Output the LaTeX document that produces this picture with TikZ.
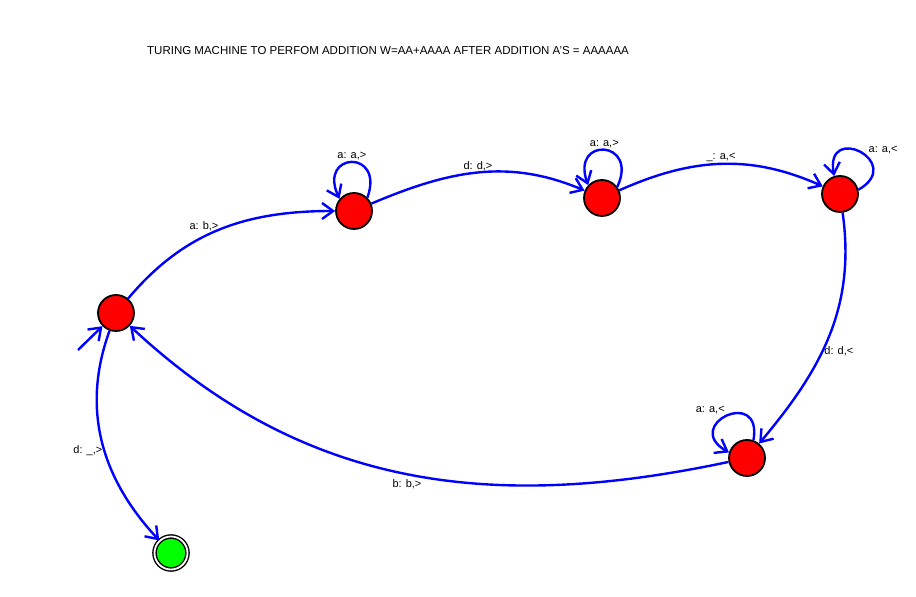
\documentclass[tikz,border=0pt]{standalone}
\usepackage{fontspec}
\setmainfont{Liberation Sans}
\usetikzlibrary{arrows.meta,positioning}

\tikzset{
  state/.style={circle,draw=black,fill=red,line width=1.8pt,minimum size=36pt,inner sep=0pt},
  accept/.style={circle,draw=black,fill=green,line width=1.4pt,double=white,double distance=1.8pt,minimum size=33pt,inner sep=0pt},
  trans/.style={draw=blue,line width=2.4pt,-{Straight Barb[length=11pt,width=16pt]}},
  lbl/.style={font=\fontsize{11}{13}\selectfont,inner sep=1pt,text=black},
}

\begin{document}
\begin{tikzpicture}[x=1pt,y=1pt]
  \useasboundingbox (0,0) rectangle (916,597);

  % Title
  \node[anchor=west,font=\fontsize{11.5}{13}\selectfont,inner sep=0pt] (title) at (147,546)
    {TURING MACHINE TO PERFOM ADDITION W=AA+AAAA AFTER ADDITION A'S = AAAAAA};

  % States
  \node[state]  (q0) at (116,284) {};
  \node[state]  (q1) at (354,386) {};
  \node[state]  (q2) at (602,399) {};
  \node[state]  (q3) at (840,403) {};
  \node[state]  (q4) at (747,139) {};
  \node[accept] (qf) at (171,44)  {};
  \coordinate (init) at (78,247);

  % Start arrow
  \draw[trans] (init) -- (q0);

  % Transitions
  \draw[trans] (q0) to[out=50,in=180] node[lbl,above=4pt,pos=0.42] {a: b,>} (q1);
  \draw[trans] (q1) to[out=23,in=157] node[lbl,above] {d: d,>} (q2);
  \draw[trans] (q2) to[out=24,in=156] node[lbl,above] {\_: a,<} (q3);
  \draw[trans] (q3) to[out=-82,in=50] node[lbl,right,pos=0.57] {d: d,<} (q4);
  \draw[trans] (q4) to[out=192,in=-43] node[lbl,below=3pt,pos=0.5] {b: b,>} (q0);
  \draw[trans] (q0) to[out=-110,in=133] node[lbl,left,pos=0.54] {d: \_,>} (qf);

  % Loops
  \draw[trans] (q1.45) to[out=70,in=115,distance=52pt] node[lbl,above] {a: a,>} (q1.140);
  \draw[trans] (q2.36) to[out=65,in=110,distance=52pt] node[lbl,above] {a: a,>} (q2.137);
  \draw[trans] (q3.13) to[out=30,in=100,distance=55pt] node[lbl,above right,pos=0.42] {a: a,<} (q3.108);
  \draw[trans] (q4.70) to[out=80,in=150,distance=55pt] node[lbl,above left,pos=0.5] {a: a,<} (q4.163);
\end{tikzpicture}
\end{document}
